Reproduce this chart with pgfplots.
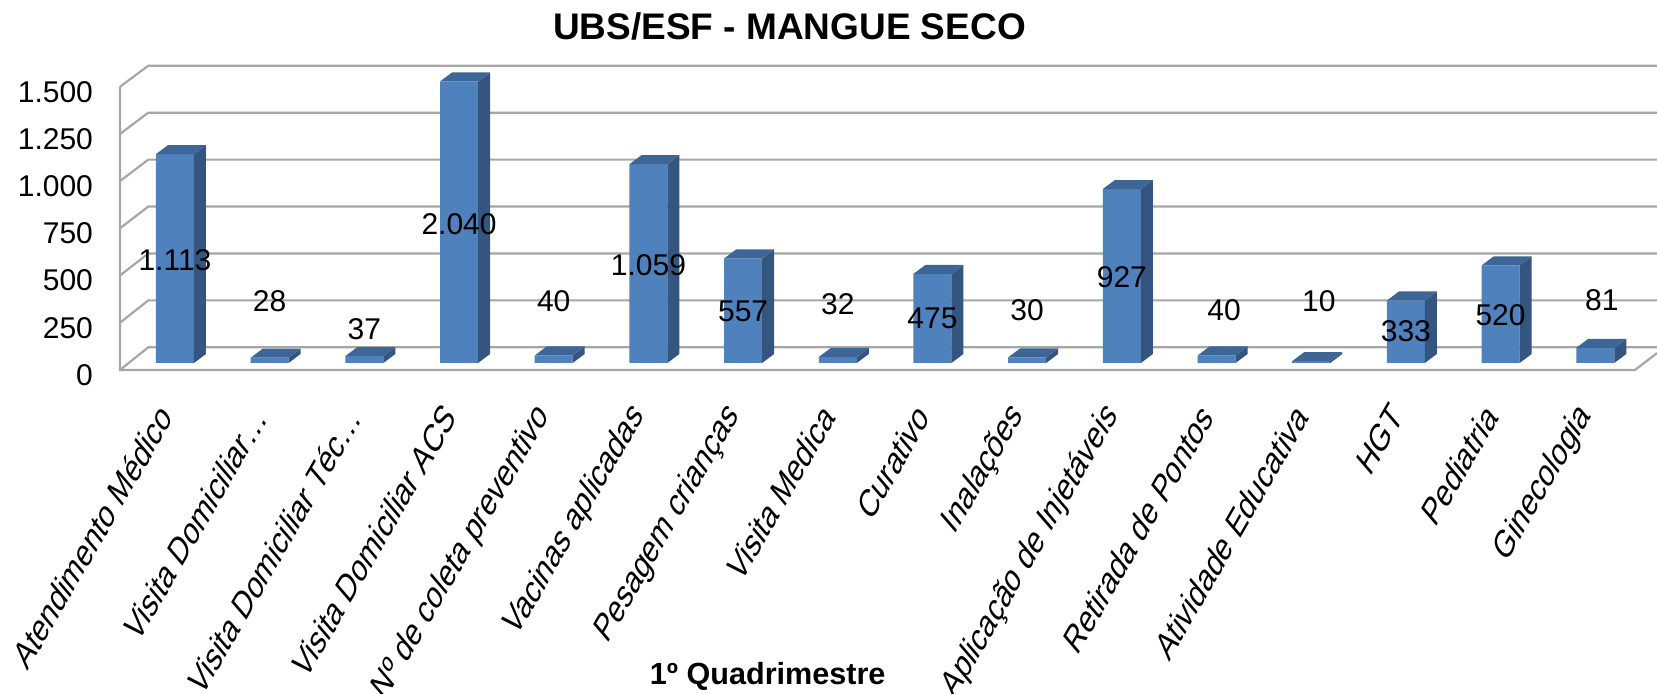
\documentclass[border=0pt]{standalone}
\usepackage{fontspec}
\setmainfont{Liberation Sans}
\usepackage{pgfplots}
\pgfplotsset{compat=1.18}
\usepackage{pgfplotstable}
\definecolor{frontc}{HTML}{4F81BD}
\definecolor{sidec}{HTML}{34557F}
\definecolor{topc}{HTML}{3D6697}
\definecolor{gridc}{HTML}{A6A6A6}

\pgfplotstableread{
i v
0 1113
1 28
2 37
3 2040
4 40
5 1059
6 557
7 32
8 475
9 30
10 927
11 40
12 10
13 333
14 520
15 81
}\databars

\pgfplotstableread{
x y lab
0 549 1.113
1 327 28
2 179 37
3 740 2.040
4 330 40
5 522 1.059
6 273 557
7 312 32
8 238 475
9 279 30
10 458 927
11.08 282 40
12.08 332 10
13 167 333
14 256 520
15.07 336 81
}\datalabels

\pgfdeclareplotmark{bar3d}{%
  \pgfmathsetlengthmacro{\barh}{\ry*0.09385}%
  \pgfsetfillcolor{sidec}%
  \pgfpathmoveto{\pgfqpoint{9.5pt}{0pt}}%
  \pgfpathlineto{\pgfqpoint{15.5pt}{4.5pt}}%
  \pgfpathlineto{\pgfpoint{15.5pt}{4.5pt-\barh}}%
  \pgfpathlineto{\pgfpoint{9.5pt}{-\barh}}%
  \pgfpathclose
  \pgfusepath{fill}%
  \pgfsetfillcolor{topc}%
  \pgfpathmoveto{\pgfqpoint{-9.5pt}{0pt}}%
  \pgfpathlineto{\pgfqpoint{9.5pt}{0pt}}%
  \pgfpathlineto{\pgfqpoint{15.5pt}{4.5pt}}%
  \pgfpathlineto{\pgfqpoint{-3.5pt}{4.5pt}}%
  \pgfpathclose
  \pgfusepath{fill}%
}

\begin{document}
\begin{tikzpicture}
\begin{axis}[
  x=47.35pt, y=0.09385pt,
  xmin=-0.5808, xmax=15.652, ymin=-37, ymax=1590,
  clip=false,
  axis line style={draw=none},
  major tick length=0pt,
  xtick={0,...,15},
  xticklabels={Atendimento Médico, Visita Domiciliar…, Visita Domiciliar Téc…, Visita Domiciliar ACS, Nº de coleta preventivo, Vacinas aplicadas, Pesagem crianças, Visita Medica, Curativo, Inalações, Aplicação de Injetáveis, Retirada de Pontos, Atividade Educativa, HGT, Pediatria, Ginecologia},
  xticklabel style={font=\fontsize{16}{19}\selectfont, anchor=east, xshift=-3pt, yshift=-17pt, rotate=60, xslant=0.35},
  ytick={-37,214.5,466,717.5,969,1220.5,1472},
  yticklabels={0,250,500,750,1.000,1.250,1.500},
  yticklabel style={font=\fontsize{15}{18}\selectfont, anchor=east, xshift=-10pt, yshift=-2.5pt},
]
% walls and gridlines
\addplot[gridc, line width=1.1pt, mark=none] coordinates {(-0.5808,-37) (-0.282,83.6) (15.652,83.6)};
\addplot[gridc, line width=1.1pt, mark=none] coordinates {(-0.5808,214.5) (-0.282,333.6) (15.652,333.6)};
\addplot[gridc, line width=1.1pt, mark=none] coordinates {(-0.5808,466) (-0.282,583.6) (15.652,583.6)};
\addplot[gridc, line width=1.1pt, mark=none] coordinates {(-0.5808,717.5) (-0.282,833.6) (15.652,833.6)};
\addplot[gridc, line width=1.1pt, mark=none] coordinates {(-0.5808,969) (-0.282,1083.6) (15.652,1083.6)};
\addplot[gridc, line width=1.1pt, mark=none] coordinates {(-0.5808,1220.5) (-0.282,1333.6) (15.652,1333.6)};
\addplot[gridc, line width=1.1pt, mark=none] coordinates {(-0.5808,1472) (-0.282,1583.6) (15.652,1583.6)};
\addplot[gridc, line width=1.1pt, mark=none] coordinates {(-0.5808,1472) (-0.5808,-37) (15.42,-37) (15.652,53)};
% bars: front faces
\addplot[ybar, bar width=0.401, bar shift=0pt, fill=frontc, draw=none,
  y filter/.expression={min(y,1500)}] table[x=i, y=v]{\databars};
% bars: side and top faces
\addplot[scatter, only marks, mark=bar3d,
  y filter/.expression={min(y,1500)},
  visualization depends on={min(\thisrow{v},1500) \as \ry}] table[x=i, y=v]{\databars};
% data labels
\addplot[draw=none, mark=none, nodes near coords, point meta=explicit symbolic,
  nodes near coords style={anchor=center, font=\fontsize{15}{18}\selectfont, text=black}]
  table[x=x, y=y, meta=lab]{\datalabels};
\node[anchor=base, font=\bfseries\fontsize{18.5}{22}\selectfont] at (axis cs:6.49,1724.5) {UBS/ESF - MANGUE SECO};
\node[anchor=base, font=\bfseries\fontsize{15.3}{18}\selectfont] at (axis cs:6.26,-1715.5) {1º Quadrimestre};
\coordinate (bbsw) at (axis cs:-1.848,-1763.5);
\coordinate (bbne) at (axis cs:15.652,1934);
\end{axis}
\pgfresetboundingbox
\path[use as bounding box] (bbsw) rectangle (bbne);
\end{tikzpicture}
\end{document}
